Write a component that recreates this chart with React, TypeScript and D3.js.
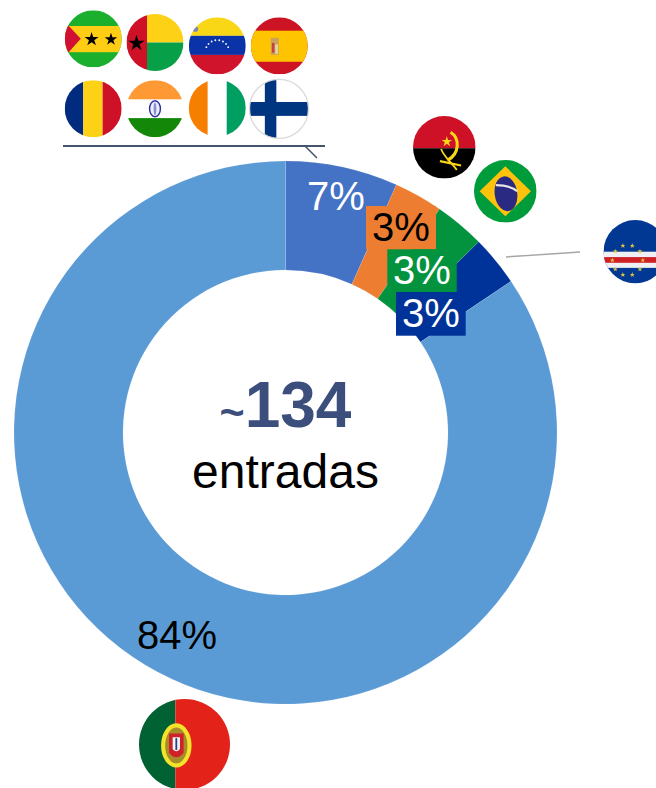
import React from "react";
import * as d3 from "d3";

// share of entries per country, clockwise from 12 o'clock
const countries = ["Outros", "Angola", "Brasil", "Cabo Verde", "Portugal"];
const shares = [6.7, 2.9, 3.0, 3.0, 84.4];
const labels = ["7%", "3%", "3%", "3%", "84%"];
const colors = ["#4472c4", "#ed7d31", "#03933f", "#003399", "#5b9bd5"];
const totalPrefix = "~";
const total = "134";
const totalUnit = "entradas";

const WIDTH = 656;
const HEIGHT = 788;
const CX = 285.5;
const CY = 432.5;
const OUTER = 271.5;
const INNER = 162.5;
const FONT = "'Liberation Sans', Arial, sans-serif";

const star = (size: number) => d3.symbol(d3.symbolStar, size)() as string;

function Flag({ id, x, y, r, children, ring }: any) {
  return (
    <g transform={`translate(${x},${y}) scale(${r})`}>
      <clipPath id={id}>
        <circle r={1} />
      </clipPath>
      <g clipPath={`url(#${id})`}>{children}</g>
      {ring && <circle r={1} fill="none" stroke="#d9d9d9" strokeWidth={0.045} />}
    </g>
  );
}

// rect in the flag's unit square
function R({ x0 = -1, x1 = 1, y0 = -1, y1 = 1, c }: any) {
  return <rect x={x0} y={y0} width={x1 - x0} height={y1 - y0} fill={c} />;
}

function Flags() {
  return (
    <g>
      <Flag id="st" x={93.3} y={38.8} r={28.5}>
        <R c="#1aaf2c" />
        <R y0={-0.45} y1={0.47} c="#ffce14" />
        <path d="M-1,-0.6L-0.44,0L-1,0.62Z" fill="#d21034" />
        <path d={star(0.075)} transform="translate(-0.06,0.02)" fill="#000" />
        <path d={star(0.06)} transform="translate(0.62,0.02)" fill="#000" />
      </Flag>
      <Flag id="gw" x={155} y={42.5} r={28.5}>
        <R x0={-0.28} y1={0} c="#fcd116" />
        <R x0={-0.28} y0={0} c="#07a049" />
        <R x1={-0.28} c="#ce1126" />
        <path d={star(0.1)} transform="translate(-0.65,0.03)" fill="#000" />
      </Flag>
      <Flag id="ve" x={217.3} y={45.8} r={28.5}>
        <R y1={-0.35} c="#f9d616" />
        <R y0={-0.35} y1={0.32} c="#0a33a8" />
        <R y0={0.32} c="#cf142b" />
        <circle cx={-0.77} cy={-0.59} r={0.1} fill="#7a86b8" />
        {d3.range(8).map((i) => {
          const a = ((i - 3.5) / 3.5) * 1.15;
          return (
            <circle key={i} cx={Math.sin(a) * 0.42} cy={0.22 - Math.cos(a) * 0.42} r={0.032} fill="#fff" />
          );
        })}
      </Flag>
      <Flag id="es" x={279.3} y={45.8} r={28.5}>
        <R c="#cc1425" />
        <R y0={-0.53} y1={0.56} c="#ffc400" />
        <R x0={-0.3} x1={-0.02} y0={-0.28} y1={0.32} c="#c9a35a" />
        <R x0={-0.26} x1={-0.17} y0={-0.1} y1={0.24} c="#c8403a" />
        <R x0={-0.14} x1={-0.05} y0={-0.05} y1={0.28} c="#e0d8b0" />
      </Flag>
      <Flag id="td" x={93.2} y={108.7} r={28.5}>
        <R x1={-0.35} c="#002b7f" />
        <R x0={-0.35} x1={0.33} c="#fcd116" />
        <R x0={0.33} c="#ce1126" />
      </Flag>
      <Flag id="in" x={155} y={108.7} r={28.5}>
        <R y1={-0.33} c="#ff9933" />
        <R y0={0.33} c="#138808" />
        <ellipse rx={0.19} ry={0.28} fill="#eef" stroke="#2a2f9a" strokeWidth={0.05} />
        <ellipse rx={0.05} ry={0.22} fill="#8a8fd0" />
      </Flag>
      <Flag id="ci" x={217.3} y={108} r={28.5}>
        <R x1={-0.34} c="#f77f00" />
        <R x0={0.33} c="#009e60" />
      </Flag>
      <Flag id="fi" x={279} y={108.8} r={29.5} ring>
        <R x0={-0.48} x1={-0.09} c="#003580" />
        <R y0={-0.23} y1={0.24} c="#003580" />
      </Flag>
      <Flag id="ao" x={444.3} y={147.3} r={31.3}>
        <R y1={0.03} c="#ce1126" />
        <R y0={0.03} c="#000" />
        <path d="M0.2,-0.48C0.5,-0.3,0.5,0.2,0.1,0.42" fill="none" stroke="#f9d616" strokeWidth={0.1} />
        <path d="M-0.2,0.42L0.45,0.65" fill="none" stroke="#f9d616" strokeWidth={0.07} transform="rotate(-8)" />
        <path d="M-0.1,0.05C-0.05,0.25,0.15,0.4,0.4,0.72" fill="none" stroke="#f9d616" strokeWidth={0.06} />
        <path d={star(0.035)} transform="translate(0.08,-0.18)" fill="#f9d616" />
      </Flag>
      <Flag id="br" x={505.3} y={191.3} r={31.3}>
        <R c="#009b3a" />
        <path d="M-0.82,0L0,-0.8L0.82,0L0,0.8Z" fill="#fec20c" />
        <ellipse cx={0.01} cy={0.08} rx={0.36} ry={0.56} fill="#2b2a83" transform="rotate(-8)" />
        <path d="M-0.3,-0.2C-0.05,-0.2,0.22,-0.14,0.38,0" fill="none" stroke="#e6e6e6" strokeWidth={0.07} />
      </Flag>
      <Flag id="cv" x={635.2} y={251.7} r={31.7}>
        <R c="#003893" />
        <R y0={0} y1={0.51} c="#eef0f6" />
        <R y0={0.17} y1={0.35} c="#cf2027" />
        {d3.range(10).map((i) => {
          const a = (i / 10) * Math.PI * 2 + Math.PI / 10;
          return (
            <path
              key={i}
              d={star(0.008)}
              transform={`translate(${-0.24 + Math.sin(a) * 0.48},${0.27 - Math.cos(a) * 0.48})`}
              fill="#e3c53a"
            />
          );
        })}
      </Flag>
      <Flag id="pt" x={184.5} y={744.5} r={45.5}>
        <R x1={-0.2} c="#006233" />
        <R x0={-0.2} c="#e32219" />
        <ellipse cx={-0.18} cy={0.02} rx={0.29} ry={0.44} fill="#a98c2a" stroke="#f3e32a" strokeWidth={0.09} />
        <path d="M-0.34,-0.24H-0.02V0.18Q-0.18,0.38,-0.34,0.18Z" fill="#d0202a" />
        <path d="M-0.26,-0.16H-0.1V0.1Q-0.18,0.2,-0.26,0.1Z" fill="#f4f4f4" />
        <R x0={-0.2} x1={-0.16} y0={-0.14} y1={0.12} c="#27408b" />
      </Flag>
    </g>
  );
}

export default function App() {
  const pie = d3.pie<number>().sort(null).value((d) => d);
  const arc = d3.arc<d3.PieArcDatum<number>>().innerRadius(INNER).outerRadius(OUTER);
  const slices = pie(shares);

  return (
    <svg
      width={WIDTH}
      height={HEIGHT}
      viewBox={`0 0 ${WIDTH} ${HEIGHT}`}
      style={{ position: "absolute", left: 0, top: 0, background: "#fff" }}
      fontFamily={FONT}
    >
      <g transform={`translate(${CX},${CY})`}>
        {slices.map((s, i) => (
          <path key={countries[i]} d={arc(s) as string} fill={colors[i]} stroke="#fff" strokeOpacity={0.2} strokeWidth={0.5} />
        ))}
      </g>

      {/* label boxes sit over the small slices */}
      <rect x={366} y={206} width={70} height={43.3} fill={colors[1]} />
      <rect x={387.3} y={249.3} width={69.4} height={42.7} fill={colors[2]} />
      <rect x={396} y={292} width={69.7} height={43.7} fill={colors[3]} />

      <g fontSize={40} textAnchor="middle">
        <text x={335.8} y={210} fill="#fff">{labels[0]}</text>
        <text x={400.8} y={241} fill="#000">{labels[1]}</text>
        <text x={422} y={284} fill="#fff">{labels[2]}</text>
        <text x={431} y={327} fill="#fff">{labels[3]}</text>
        <text x={177} y={649} fill="#000">{labels[4]}</text>
      </g>

      <text x={285.5} y={427} textAnchor="middle" fontWeight="bold" fill="#3b4e7c" fontSize={64}>
        <tspan fontSize={43}>{totalPrefix}</tspan>
        {total}
      </text>
      <text x={285.5} y={488} textAnchor="middle" fill="#000" fontSize={48}>{totalUnit}</text>

      <line x1={63} y1={146} x2={325} y2={146} stroke="#44546a" strokeWidth={2} />
      <line x1={305} y1={146} x2={317} y2={158} stroke="#44546a" strokeWidth={1.5} />
      <line x1={506} y1={257} x2={580} y2={252} stroke="#a6a6a6" strokeWidth={1.5} />

      <Flags />
    </svg>
  );
}
